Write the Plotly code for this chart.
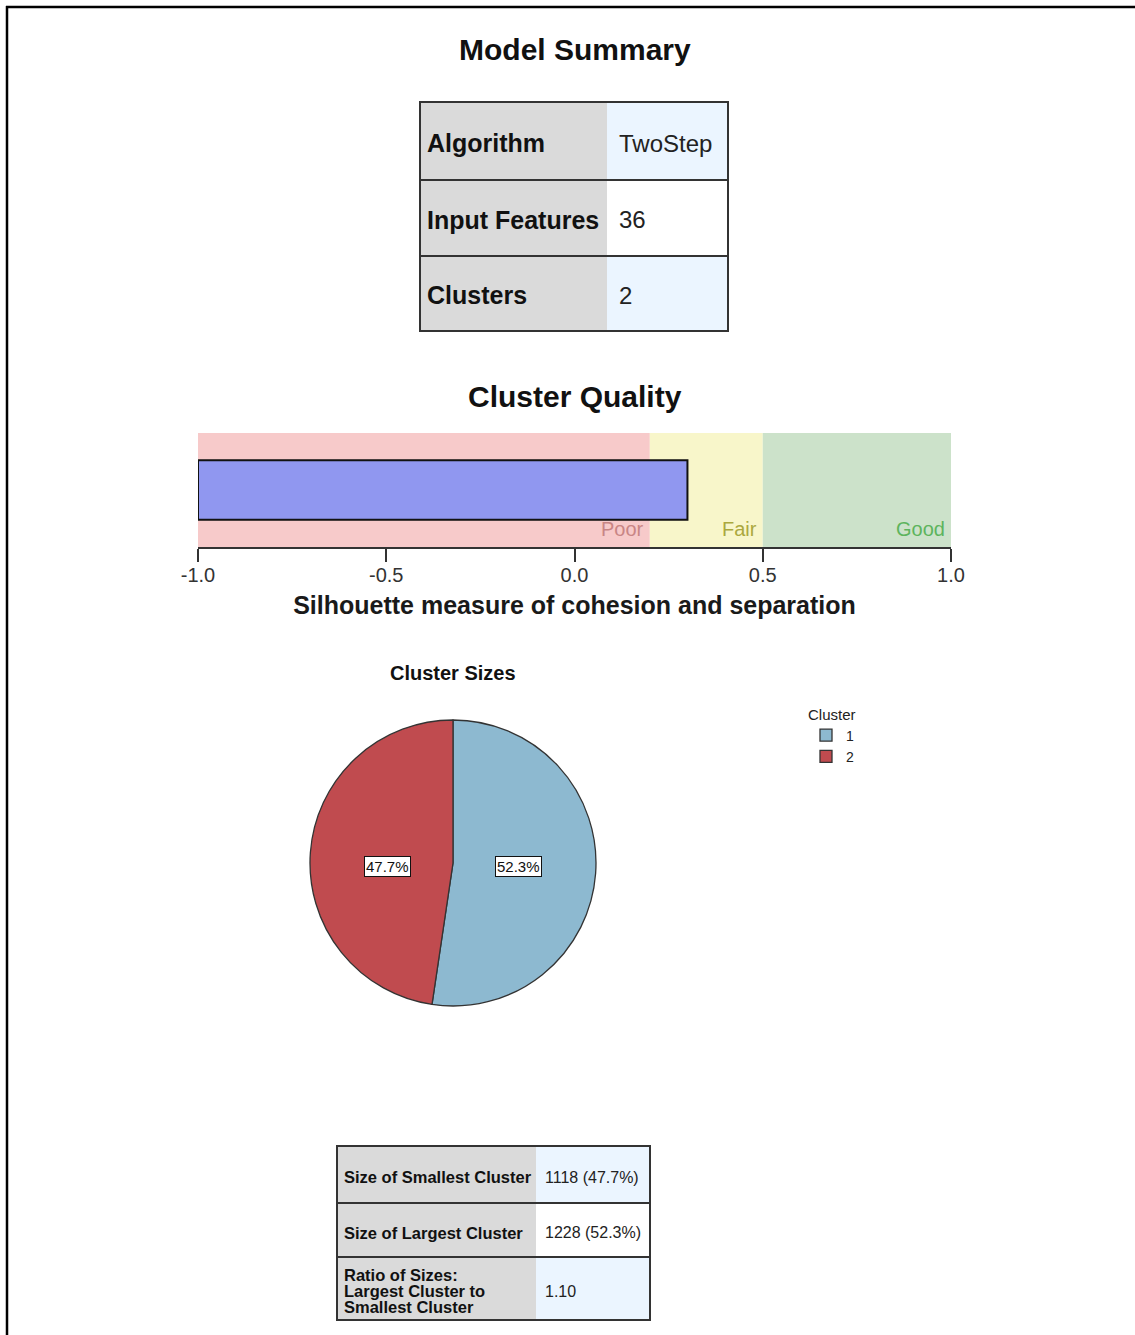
import math
import plotly.graph_objects as go

W, H = 1135, 1335
FONT = "Liberation Sans, Arial, sans-serif"

# ---- data -------------------------------------------------------------
summary_labels = ["Algorithm", "Input Features", "Clusters"]
summary_values = ["TwoStep", "36", "2"]

silhouette = 0.3
axis_min, axis_max = -1.0, 1.0
quality_names = ["Poor", "Fair", "Good"]
quality_edges = [-1.0, 0.2, 0.5, 1.0]
tick_values = [-1.0, -0.5, 0.0, 0.5, 1.0]

cluster_names = ["1", "2"]
cluster_counts = [1228, 1118]

size_labels = [
    ["Size of Smallest Cluster"],
    ["Size of Largest Cluster"],
    ["Ratio of Sizes:", "Largest Cluster to", "Smallest Cluster"],
]

# ---- styles -----------------------------------------------------------
band_fill = ["#F7CACA", "#F8F6CA", "#CCE2CA"]
band_text = ["#C98585", "#ABA83E", "#5DB45D"]
slice_colors = ["#8DB9D0", "#C04B4F"]
label_fill = "#DADADA"
value_fills = ["#EBF5FF", "#FFFFFF", "#EBF5FF"]
border = "#333333"


def px(x):
    return x / W


def py(y):
    return 1 - y / H


shapes = []
annotations = []


def text(x, y, s, size, color="#111111", anchor="left", **kw):
    annotations.append(dict(
        x=px(x), y=py(y), xref="paper", yref="paper", text=s,
        showarrow=False, xanchor=anchor, yanchor="middle",
        font=dict(family=FONT, size=size, color=color), **kw))


def rect(x0, y0, x1, y1, fill, line_w=0, line_c=border, layer="below"):
    shapes.append(dict(
        type="rect", xref="paper", yref="paper",
        x0=px(x0), x1=px(x1), y0=py(y1), y1=py(y0),
        fillcolor=fill, line=dict(width=line_w, color=line_c), layer=layer))


def hline(x0, x1, y, w=2, c=border):
    shapes.append(dict(type="line", xref="paper", yref="paper",
                       x0=px(x0), x1=px(x1), y0=py(y), y1=py(y),
                       line=dict(width=w, color=c)))


def vline(x, y0, y1, w=2, c=border):
    shapes.append(dict(type="line", xref="paper", yref="paper",
                       x0=px(x), x1=px(x), y0=py(y0), y1=py(y1),
                       line=dict(width=w, color=c)))


def draw_table(x0, xs, x1, rows, labels, values, lsize, vsize,
               line_gap, value_pad, text_dy):
    for i in range(len(rows) - 1):
        rect(x0, rows[i], xs, rows[i + 1], label_fill)
        rect(xs, rows[i], x1, rows[i + 1], value_fills[i % len(value_fills)])
        mid = (rows[i] + rows[i + 1]) / 2 + text_dy
        lines = labels[i] if isinstance(labels[i], list) else [labels[i]]
        n = len(lines)
        for k, ln in enumerate(lines):
            text(x0 + 5, mid + (k - (n - 1) / 2) * line_gap, "<b>%s</b>" % ln, lsize)
        text(xs + value_pad, mid, values[i], vsize, color="#222222")
    for y in rows:
        hline(x0 - 1, x1 + 1, y)
    vline(x0, rows[0], rows[-1])
    vline(x1, rows[0], rows[-1])


# page frame
hline(6, W, 7, w=2.5, c="#000000")
vline(7, 6, H, w=2.5, c="#000000")

# ---- model summary ----------------------------------------------------
text(575, 49, "<b>Model Summary</b>", 30, anchor="center")
draw_table(420, 607, 728, [102, 180, 256, 331],
           summary_labels, summary_values, 25, 24, 0, 10, 2)

# ---- cluster quality --------------------------------------------------
text(575, 397, "<b>Cluster Quality</b>", 30, anchor="center")
for i, name in enumerate(quality_names):
    shapes.append(dict(type="rect", xref="x", yref="y domain",
                       x0=quality_edges[i], x1=quality_edges[i + 1], y0=0, y1=1,
                       fillcolor=band_fill[i], line=dict(width=0), layer="below"))
    annotations.append(dict(x=quality_edges[i + 1], y=0.045, xref="x", yref="y domain",
                            text=name, showarrow=False, xanchor="right", yanchor="bottom",
                            xshift=-4, font=dict(family=FONT, size=20, color=band_text[i])))

bar = go.Bar(
    y=[0], x=[silhouette - axis_min], base=[axis_min], orientation="h", width=0.52,
    marker=dict(color="#9097F0", line=dict(color="#111111", width=2)),
    showlegend=False, hoverinfo="skip", xaxis="x", yaxis="y")

# ---- cluster sizes pie ------------------------------------------------
text(453, 673, "<b>Cluster Sizes</b>", 20, anchor="center")
cx, cy, R = 453, 863, 143
pie = go.Pie(
    labels=cluster_names, values=cluster_counts, sort=False,
    direction="clockwise", rotation=0, textinfo="none", hoverinfo="label+percent",
    marker=dict(colors=slice_colors, line=dict(color="#333333", width=1.3)),
    domain=dict(x=[px(cx - R), px(cx + R)], y=[py(cy + R), py(cy - R)]),
    showlegend=True)

total = sum(cluster_counts)
start = 0.0
for n in cluster_counts:
    frac = n / total
    mid = (start + frac / 2) * 2 * math.pi
    side = 1 if math.sin(mid) >= 0 else -1
    text(cx + side * 0.455 * R, cy + 3, "%.1f%%" % (frac * 100), 15,
         color="#111111", anchor="center", bgcolor="#FFFFFF",
         bordercolor="#111111", borderwidth=1, borderpad=1)
    start += frac

# ---- cluster size table -----------------------------------------------
small, large = min(cluster_counts), max(cluster_counts)
size_values = [
    "%d (%.1f%%)" % (small, small / total * 100),
    "%d (%.1f%%)" % (large, large / total * 100),
    "%.2f" % (large / small),
]
draw_table(337, 536, 650, [1146, 1203, 1257, 1320],
           size_labels, size_values, 16.5, 16, 16, 7, 2.5)

fig = go.Figure([bar, pie])
fig.update_layout(
    width=W, height=H, margin=dict(l=0, r=0, t=0, b=0, autoexpand=False),
    paper_bgcolor="#FFFFFF", plot_bgcolor="#FFFFFF",
    font=dict(family=FONT, color="#222222"),
    xaxis=dict(domain=[px(198), px(951)], range=[axis_min, axis_max],
               tickvals=tick_values, ticktext=["%.1f" % v for v in tick_values],
               ticks="outside", ticklen=13, tickwidth=2, tickcolor="#333333",
               ticklabelstandoff=-4,
               showline=True, linecolor="#333333", linewidth=2,
               showgrid=False, zeroline=False, automargin=False,
               tickfont=dict(family=FONT, size=20, color="#333333"),
               title=dict(text="<b>Silhouette measure of cohesion and separation</b>",
                          font=dict(family=FONT, size=25, color="#1A1A1A"),
                          standoff=11),
               fixedrange=True),
    yaxis=dict(domain=[py(547), py(433)], range=[-0.5, 0.5], visible=False,
               fixedrange=True),
    legend=dict(x=px(806), y=py(700), xanchor="left", yanchor="top",
                title=dict(text="Cluster", font=dict(family=FONT, size=15, color="#222222")),
                font=dict(family=FONT, size=14, color="#222222"),
                itemwidth=30, tracegroupgap=0, bgcolor="rgba(0,0,0,0)"),
    shapes=shapes, annotations=annotations,
)

fig.write_html("out.html", config={"displayModeBar": False})
